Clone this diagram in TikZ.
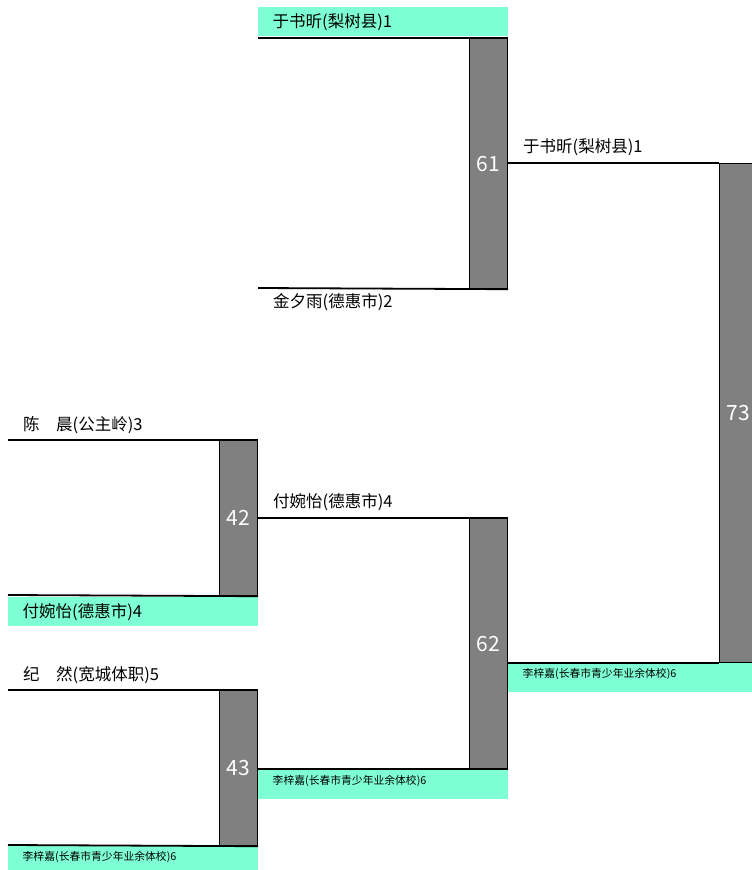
\documentclass[tikz,border=0pt]{standalone}
\usepackage{fontspec}
\setmainfont{Noto Sans CJK SC}
\definecolor{bargray}{HTML}{808080}
\definecolor{winfill}{HTML}{7FFFD4}
\begin{document}
\begin{tikzpicture}[
    x=1pt,
    y=-1pt,
    wire/.style={black, line width=1.8pt},
    bar/.style={draw=black, line width=1.2pt, fill=bargray, text=white,
        font=\fontsize{21}{21}\selectfont, inner sep=0pt, minimum width=38},
    entrant/.style={anchor=west, inner sep=0pt, font=\fontsize{16.5}{16.5}\selectfont},
    winbox/.style={fill=winfill, anchor=north west, inner xsep=14.5pt, inner ysep=0pt,
        text width=221pt, align=left, minimum height=29, font=\fontsize{16.5}{16.5}\selectfont},
    smallbox/.style={winbox, font=\fontsize{10.8}{10.8}\selectfont, text depth=9pt}
]

% =========================================================
% PARAMETRI
% =========================================================

\def\colA{8}
\def\colB{258}
\def\colC{508}
\def\colD{719}

\useasboundingbox (0,0) rectangle (752,870);

% =========================================================
% CASELLE EVIDENZIATE
% =========================================================

\node[winbox] (h1) at (\colB,7) {于书昕(梨树县)1};
\node[winbox] (h4) at (\colA,597) {付婉怡(德惠市)4};
\node[smallbox] (h6a) at (\colA,846) {李梓嘉(长春市青少年业余体校)6};
\node[smallbox] (h6b) at (\colB,770) {李梓嘉(长春市青少年业余体校)6};
\node[smallbox] (h6c) at (\colC,663) {李梓嘉(长春市青少年业余体校)6};

% =========================================================
% BARRE
% =========================================================

% Primo turno
\node[bar, anchor=north east, minimum height=155] (b42) at (\colB,440) {42};
\node[bar, anchor=north east, minimum height=155] (b43) at (\colB,690) {43};

% Secondo turno
\node[bar, anchor=north east, minimum height=250] (b61) at (\colC,38) {61};
\node[bar, anchor=north east, minimum height=250] (b62) at (\colC,518) {62};

% Finale
\node[bar, anchor=north west, minimum height=499] (b73) at (\colD,163) {73};

% Estremi liberi
\coordinate (e1) at (\colB,38);
\coordinate (e2) at (\colB,288);
\coordinate (e3) at (\colA,440);
\coordinate (e4) at (\colA,595);
\coordinate (e5) at (\colA,690);
\coordinate (e6) at (\colA,845);

% =========================================================
% LINEE
% =========================================================

\draw[wire] (e1) -- (b61.north east);
\draw[wire] (e2) -- (b61.south east);
\draw[wire] (e3) -- (b42.north east);
\draw[wire] (e4) -- (b42.south east);
\draw[wire] (e5) -- (b43.north east);
\draw[wire] (e6) -- (b43.south east);
\draw[wire] (b42.east |- b62.north west) -- (b62.north east);
\draw[wire] (b43.east |- b62.south west) -- (b62.south east);
\draw[wire] (b61.east |- b73.north west) -- (b73.north west);
\draw[wire] (b62.east |- b73.south west) -- (b73.south west);

% =========================================================
% NOMI
% =========================================================

\node[entrant] (n2) at (273,302) {金夕雨(德惠市)2};
\node[entrant] (n3) at (23,425) {陈　晨(公主岭)3};
\node[entrant] (n5) at (23,675) {纪　然(宽城体职)5};
\node[entrant] (n42) at (273,502) {付婉怡(德惠市)4};
\node[entrant] (n61) at (523,147) {于书昕(梨树县)1};

\end{tikzpicture}
\end{document}
